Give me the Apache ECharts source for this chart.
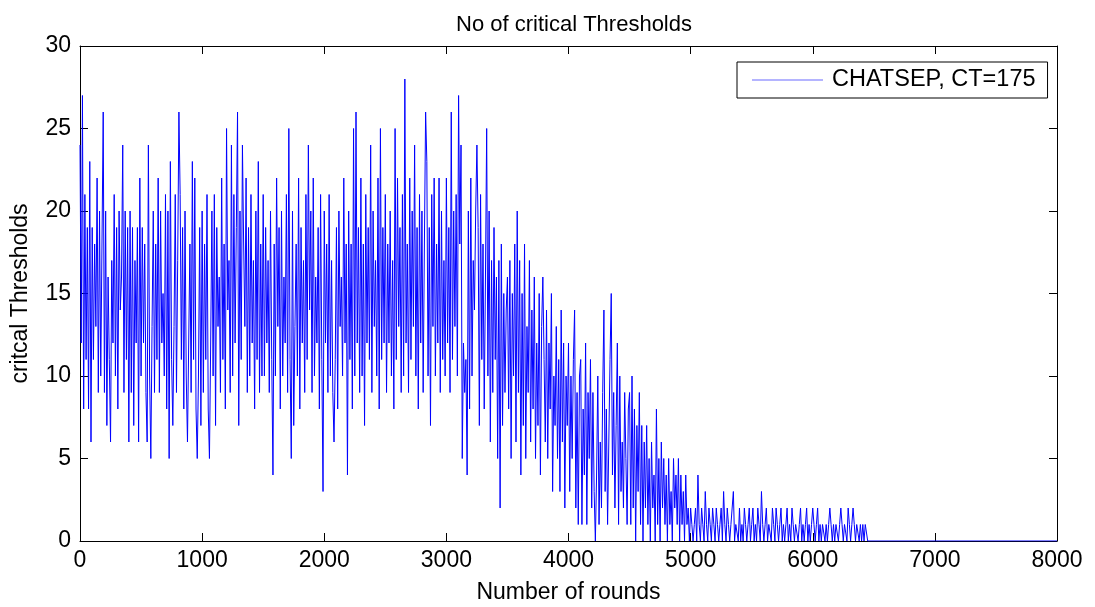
<!DOCTYPE html>
<html>
<head>
<meta charset="utf-8">
<script src="https://cdn.jsdelivr.net/npm/echarts@6/dist/echarts.min.js"></script>
<style>
html,body{margin:0;padding:0;background:#fff;}
#chart{width:1095px;height:607px;}
</style>
</head>
<body>
<div id="chart"></div>
<script>
// Rounds step between consecutive samples
const roundStep = 10;
// critical thresholds per sample, starting at round 0
const thresholds = [
24,12,27,8,21,11,19,8,23,6,
19,11,18,13,22,9,20,10,18,26,
9,20,7,16,11,6,17,12,21,10,
19,8,20,14,16,24,9,20,11,19,
6,20,9,19,7,17,12,19,6,22,
10,19,12,18,9,6,24,10,5,13,
20,9,18,11,22,9,20,12,15,10,
21,8,20,5,23,11,7,13,21,9,
17,26,21,11,19,8,20,10,6,12,
18,9,23,11,22,8,5,10,19,7,
20,9,18,11,21,8,5,12,20,10,
21,7,19,13,16,9,22,11,18,8,
25,14,17,9,24,10,21,12,19,26,
7,20,11,24,18,13,22,9,19,10,
21,12,17,8,20,11,23,9,18,10,
21,10,19,12,17,9,20,11,4,18,
10,22,13,19,8,20,10,16,12,21,
9,25,11,5,20,7,13,18,10,22,
8,19,12,17,9,21,11,24,14,20,
9,22,10,16,12,19,8,21,11,3,
20,12,18,9,21,10,17,9,6,11,
19,8,20,13,16,10,22,12,18,4,
20,11,18,8,25,10,26,12,19,9,
22,10,18,7,21,12,19,11,24,9,
20,13,17,10,22,8,25,11,19,12,
21,9,18,12,20,10,17,8,25,11,
22,13,19,9,21,10,28,12,18,9,
22,11,20,13,24,10,19,8,21,12,
20,9,18,26,23,10,19,7,21,13,
22,10,18,12,22,9,20,11,17,10,
22,12,19,9,26,11,20,13,21,10,
27,18,24,5,12,9,11,4,20,8,
22,10,17,14,20,24,19,7,21,11,
18,8,16,25,10,20,6,17,9,19,
11,16,5,17,2,18,7,15,9,14,
16,8,17,5,15,10,18,6,20,9,
17,4,15,7,18,5,13,9,17,6,
14,8,16,5,12,7,15,4,13,16,
11,6,14,5,12,8,15,3,10,7,
13,5,11,3,14,6,12,2,10,7,
12,3,10,5,11,14,2,9,1,10,
11,1,8,4,12,1,9,5,11,2,
9,3,0,4,10,1,6,2,9,14,
3,8,1,6,11,15,4,9,2,7,
12,1,10,3,6,2,9,5,1,8,
9,1,10,2,8,0,7,3,9,1,
7,0,6,2,7,1,5,0,6,2,
4,0,8,1,5,0,6,2,5,1,
4,0,5,1,3,0,5,2,4,1,
5,0,4,1,3,0,4,1,2,0,
2,1,0,1,2,0,4,1,0,2,
1,0,3,1,0,2,1,0,2,1,
0,2,1,0,1,2,0,3,1,0,
2,1,0,1,2,3,0,1,1,0,
2,0,1,0,2,1,0,1,2,0,
1,2,0,1,0,2,1,0,3,1,
0,1,2,0,1,1,0,2,1,0,
2,1,0,1,2,0,1,0,1,2,
0,1,0,2,1,0,1,1,0,1,
2,0,1,0,1,2,0,1,0,1,
2,1,0,1,2,0,1,0,1,1,
0,1,0,1,2,1,0,1,0,1,
1,0,1,2,1,0,1,1,0,2,
1,0,1,2,1,0,1,1,0,1,
0,1,0,1,1
];
// flat tail at zero after the network dies
const tailRounds = [6450, 8000];
const tailValues = [0, 0];

const xTicks = [0,1000,2000,3000,4000,5000,6000,7000,8000];
const yTicks = [0,5,10,15,20,25,30];
const seriesName = 'CHATSEP, CT=175';

const data = thresholds.map((v, i) => [i * roundStep, v]);
tailRounds.forEach((r, i) => data.push([r, tailValues[i]]));

const FONT = "'Liberation Sans', Arial, Helvetica, sans-serif";
const chart = echarts.init(document.getElementById('chart'), null, {renderer: 'canvas'});

const axisCommon = {
  axisLine: {show: true, onZero: false, lineStyle: {color: '#000', width: 1}},
  axisTick: {show: true, inside: true, length: 8, lineStyle: {color: '#000', width: 1}},
  splitLine: {show: false}
};

chart.setOption({
  animation: false,
  backgroundColor: '#fff',
  title: {
    text: 'No of critical Thresholds',
    left: 569, top: 9, textAlign: 'center',
    textStyle: {fontFamily: FONT, fontSize: 22, fontWeight: 'normal', color: '#000'}
  },
  legend: {
    show: true,
    data: [{name: seriesName, icon: 'rect', itemStyle: {color: '#6b6bff'}}],
    left: 737, top: 62,
    padding: [6, 12, 6, 15],
    borderColor: '#000', borderWidth: 1, backgroundColor: '#fff',
    itemWidth: 71, itemHeight: 1,
    textStyle: {fontFamily: FONT, fontSize: 23.5, color: '#000', padding: [0, 0, 0, 4]},
    z: 10
  },
  grid: {left: 80, right: 38, top: 46, bottom: 66, containLabel: false, outerBoundsMode: 'none'},
  xAxis: [
    Object.assign({
      type: 'value', min: xTicks[0], max: xTicks[xTicks.length-1], interval: 1000,
      position: 'bottom',
      name: 'Number of rounds', nameLocation: 'middle', nameGap: 40,
      nameTextStyle: {fontFamily: FONT, fontSize: 23, color: '#000'},
      axisLabel: {fontFamily: FONT, fontSize: 23, color: '#000', margin: 8,
        formatter: v => String(v)}
    }, axisCommon),
    Object.assign({
      type: 'value', min: xTicks[0], max: xTicks[xTicks.length-1], interval: 1000,
      position: 'top', axisLabel: {show: false}
    }, axisCommon)
  ],
  yAxis: [
    Object.assign({
      type: 'value', min: yTicks[0], max: yTicks[yTicks.length-1], interval: 5,
      position: 'left',
      name: 'critcal Thresholds', nameLocation: 'middle', nameGap: 48, nameRotate: 90,
      nameTextStyle: {fontFamily: FONT, fontSize: 23, color: '#000'},
      axisLabel: {fontFamily: FONT, fontSize: 23, color: '#000', margin: 9}
    }, axisCommon),
    Object.assign({
      type: 'value', min: yTicks[0], max: yTicks[yTicks.length-1], interval: 5,
      position: 'right', axisLabel: {show: false}
    }, axisCommon)
  ],
  series: [{
    name: seriesName,
    type: 'line',
    xAxisIndex: 0, yAxisIndex: 0,
    data: data,
    showSymbol: false, symbol: 'none',
    lineStyle: {color: '#0000ff', width: 1},
    itemStyle: {color: '#0000ff'},
    z: 1
  }]
});
</script>
</body>
</html>
